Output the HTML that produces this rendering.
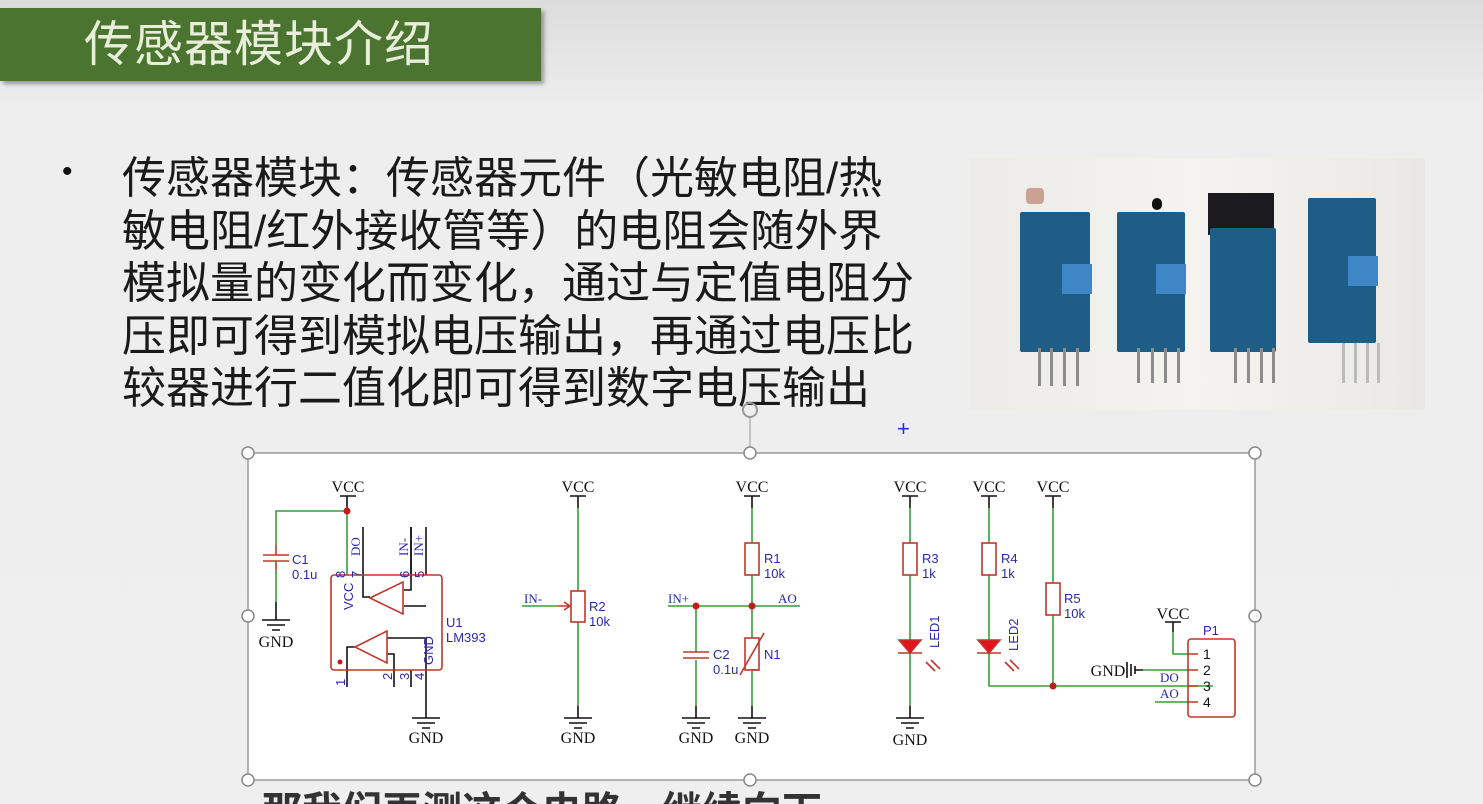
<!DOCTYPE html>
<html style="overflow:hidden;height:804px"><head><meta charset="utf-8"><style>
body{margin:0;width:1483px;height:804px;overflow:hidden;background:linear-gradient(#dcdcdc 0,#eeeeee 110px,#efefef 100%);font-family:"Liberation Sans","Noto Sans CJK SC",sans-serif;position:relative}
.banner{position:absolute;left:0;top:8px;width:541px;height:73px;background:#4b7431;box-shadow:3px 3px 4px rgba(0,0,0,.35)}
.banner span{position:absolute;left:84px;top:9px;font-size:49px;color:#e9eedb;letter-spacing:1px;line-height:56px}
.txt{position:absolute;left:122px;top:153px;font-size:44px;line-height:52.5px;color:#1a1a1a;white-space:nowrap}
.bul{position:absolute;left:62px;top:155px;font-size:30px;color:#111}
.photo{position:absolute;left:970px;top:158px;width:455px;height:252px;background:linear-gradient(90deg,#ecebe7,#f4f3f0 50%,#e9e8e4)}
.b{position:absolute;background:#1d5d86;border-radius:2px}
.pin{position:absolute;width:3px;background:#8c8c8c}
.pot{position:absolute;width:30px;height:30px;background:#3f86c6}
.clip{position:absolute;left:0;top:786px;width:1483px;height:18px;overflow:hidden}
.sub{position:absolute;left:262px;top:2px;font-size:40px;font-weight:bold;color:#333;white-space:nowrap;line-height:48px}
</style></head><body>
<div class="banner"><span>传感器模块介绍</span></div>
<div class="bul">•</div>
<div class="txt">传感器模块：传感器元件（光敏电阻/热<br>敏电阻/红外接收管等）的电阻会随外界<br>模拟量的变化而变化，通过与定值电阻分<br>压即可得到模拟电压输出，再通过电压比<br>较器进行二值化即可得到数字电压输出</div>
<div class="photo">
 <div style="position:absolute;left:56px;top:30px;width:18px;height:16px;background:#c9a293;border-radius:4px"></div>
 <div class="b" style="left:50px;top:54px;width:70px;height:140px"></div>
 <div class="pot" style="left:92px;top:106px"></div>
 <div class="pin" style="left:68px;top:190px;height:38px"></div><div class="pin" style="left:80px;top:190px;height:38px"></div><div class="pin" style="left:93px;top:190px;height:38px"></div><div class="pin" style="left:106px;top:190px;height:38px"></div>
 <div style="position:absolute;left:182px;top:40px;width:10px;height:12px;background:#111;border-radius:5px"></div>
 <div class="b" style="left:147px;top:54px;width:68px;height:140px"></div>
 <div class="pot" style="left:186px;top:106px"></div>
 <div class="pin" style="left:167px;top:190px;height:35px"></div><div class="pin" style="left:181px;top:190px;height:35px"></div><div class="pin" style="left:194px;top:190px;height:35px"></div><div class="pin" style="left:207px;top:190px;height:35px"></div>
 <div style="position:absolute;left:238px;top:35px;width:66px;height:42px;background:#1b1b1f"></div>
 <div class="b" style="left:240px;top:70px;width:66px;height:124px"></div>
 <div class="pin" style="left:264px;top:190px;height:35px"></div><div class="pin" style="left:277px;top:190px;height:35px"></div><div class="pin" style="left:290px;top:190px;height:35px"></div><div class="pin" style="left:302px;top:190px;height:35px"></div>
 <div class="b" style="left:338px;top:40px;width:68px;height:145px"></div>
 <div class="pot" style="left:378px;top:98px"></div>
 <div class="pin" style="left:372px;top:185px;height:40px;background:#bbb"></div><div class="pin" style="left:384px;top:185px;height:40px;background:#bbb"></div><div class="pin" style="left:396px;top:185px;height:40px;background:#bbb"></div><div class="pin" style="left:407px;top:185px;height:40px;background:#bbb"></div>
</div>
<svg style="position:absolute;left:0;top:0" width="1483" height="804" font-family="Liberation Serif,serif">
<rect x="248" y="453" width="1007" height="327" fill="#fff" stroke="#9a9a9a" stroke-width="1.5"/>
<g fill="#fff" stroke="#888" stroke-width="1.5">
<circle cx="248" cy="453" r="6"/><circle cx="750" cy="453" r="6"/><circle cx="1255" cy="453" r="6"/>
<circle cx="248" cy="616" r="6"/><circle cx="1255" cy="616" r="6"/>
<circle cx="248" cy="780" r="6"/><circle cx="750" cy="780" r="6"/><circle cx="1255" cy="780" r="6"/>
</g>
<line x1="750" y1="418" x2="750" y2="447" stroke="#999"/><circle cx="750" cy="410" r="7" fill="none" stroke="#999" stroke-width="2"/>
<text x="897" y="436" fill="#2233dd" font-size="22" font-family="Liberation Sans">+</text>
<g stroke-width="1.6" fill="none">
<g stroke="#111">
<path d="M340 496h16M347 496v12"/><path d="M570 496h16M578 496v12"/><path d="M744 496h16M752 496v12"/>
<path d="M902 496h16M910 496v12"/><path d="M981 496h16M989 496v12"/><path d="M1045 496h16M1053 496v12"/><path d="M1165 622h16M1173 622v10"/>
<path d="M276 602v18M262 620h28M267 625h18M272 630h8"/>
<path d="M426 700v18M412 718h28M417 723h18M422 728h8"/>
<path d="M578 706v12M564 718h28M569 723h18M574 728h8"/>
<path d="M696 706v12M682 718h28M687 723h18M692 728h8"/>
<path d="M752 706v12M738 718h28M743 723h18M748 728h8"/>
<path d="M910 706v12M896 718h28M901 723h18M906 728h8"/>
<path d="M1127 662v16M1131 664v12M1135 666v8M1135 670h8"/>
<path d="M363 527v48M411 527v48M426 527v48M347 670v17M394 670v17M411 670v17M426 670v30"/>
<path d="M363 575v22h7M404 590h7v-63M404 606h22"/><path d="M387 638h39v32M387 654h7v16M355 647h-8v23"/>
</g>
<g stroke="#3a9c3a">
<path d="M347 508v67M347 511h-71v34M276 570v32"/>
<path d="M578 508v83M578 622v84M522 606h36"/>
<path d="M752 508v35M752 575v63M752 670v36M668 606h132M696 606v46M696 660v46"/>
<path d="M910 508v35M910 575v65M910 653v53"/>
<path d="M989 508v35M989 575v65M989 653v33h224M1053 508v75M1053 615v71"/>
<path d="M1173 632v22h15M1143 670h45M1155 702h33"/>
</g>
<g stroke="#c0362c">
<rect x="331" y="575" width="111" height="95" rx="3"/>
<path d="M370 598l33-16v32z M355 647l32-16v32z"/>
<path d="M263 555h26M263 561h26M276 545v10M276 561v9"/>
<rect x="571" y="591" width="14" height="31"/><path d="M558 606h12M564 602l6 4-6 4"/>
<rect x="745" y="543" width="14" height="32"/><rect x="745" y="638" width="14" height="32"/><path d="M740 675l24-42M752 670h6"/>
<path d="M683 652h26M683 658h26"/>
<rect x="903" y="543" width="14" height="32"/><rect x="982" y="543" width="14" height="32"/><rect x="1046" y="583" width="14" height="32"/>
<path d="M898 653h24M977 653h24M926 662l9 9M931 660l9 9M1005 662l9 9M1010 660l9 9"/>
<rect x="1188" y="639" width="47" height="78" rx="3"/>
<path d="M1188 654h10M1188 670h10M1188 686h10M1188 702h10"/>
</g>
<path d="M899 640h22l-11 13z M978 640h22l-11 13z" fill="#e0141a" stroke="#c0362c"/>
</g>
<g fill="#c41a1a"><circle cx="347" cy="511" r="3.5"/><circle cx="696" cy="606" r="3.5"/><circle cx="752" cy="606" r="3.5"/><circle cx="1053" cy="686" r="3.5"/><circle cx="340" cy="662" r="2.5"/></g>
<g font-size="16" fill="#111" text-anchor="middle">
<text x="348" y="492">VCC</text><text x="578" y="492">VCC</text><text x="752" y="492">VCC</text><text x="910" y="492">VCC</text><text x="989" y="492">VCC</text><text x="1053" y="492">VCC</text><text x="1173" y="619">VCC</text>
<text x="276" y="647">GND</text><text x="426" y="743">GND</text><text x="578" y="743">GND</text><text x="696" y="743">GND</text><text x="752" y="743">GND</text><text x="910" y="745">GND</text><text x="1108" y="676">GND</text>
</g>
<g font-size="13" fill="#2a2aa8" font-family="Liberation Sans,sans-serif">
<text x="292" y="564">C1</text><text x="292" y="579">0.1u</text>
<text x="446" y="627">U1</text><text x="446" y="642">LM393</text>
<text x="589" y="611">R2</text><text x="589" y="626">10k</text>
<text x="764" y="563">R1</text><text x="764" y="578">10k</text>
<text x="713" y="659">C2</text><text x="713" y="674">0.1u</text><text x="764" y="659">N1</text>
<text x="922" y="563">R3</text><text x="922" y="578">1k</text>
<text x="1001" y="563">R4</text><text x="1001" y="578">1k</text>
<text x="1064" y="603">R5</text><text x="1064" y="618">10k</text>
<text x="1203" y="635">P1</text>
<text font-size="14" x="1203" y="659" fill="#111">1</text><text font-size="14" x="1203" y="675" fill="#111">2</text><text font-size="14" x="1203" y="691" fill="#111">3</text><text font-size="14" x="1203" y="707" fill="#111">4</text>
<text transform="translate(939 648) rotate(-90)">LED1</text><text transform="translate(1018 651) rotate(-90)">LED2</text>
<text transform="translate(353 610) rotate(-90)">VCC</text><text transform="translate(433 665) rotate(-90)">GND</text>
<text transform="translate(345 578) rotate(-90)">8</text><text transform="translate(361 578) rotate(-90)">7</text><text transform="translate(409 578) rotate(-90)">6</text><text transform="translate(424 578) rotate(-90)">5</text>
<text transform="translate(345 686) rotate(-90)">1</text><text transform="translate(392 680) rotate(-90)">2</text><text transform="translate(409 680) rotate(-90)">3</text><text transform="translate(424 680) rotate(-90)">4</text>
</g>
<g font-size="13" fill="#2a2aa8">
<text transform="translate(360 556) rotate(-90)">DO</text><text transform="translate(408 556) rotate(-90)">IN-</text><text transform="translate(423 556) rotate(-90)">IN+</text>
<text x="524" y="603">IN-</text><text x="668" y="603">IN+</text><text x="778" y="603">AO</text>
<text x="1160" y="682">DO</text><text x="1160" y="698">AO</text>
</g>
</svg>
<div class="clip"><div class="sub">那我们再测这个电路，继续向下</div></div>
</body></html>
